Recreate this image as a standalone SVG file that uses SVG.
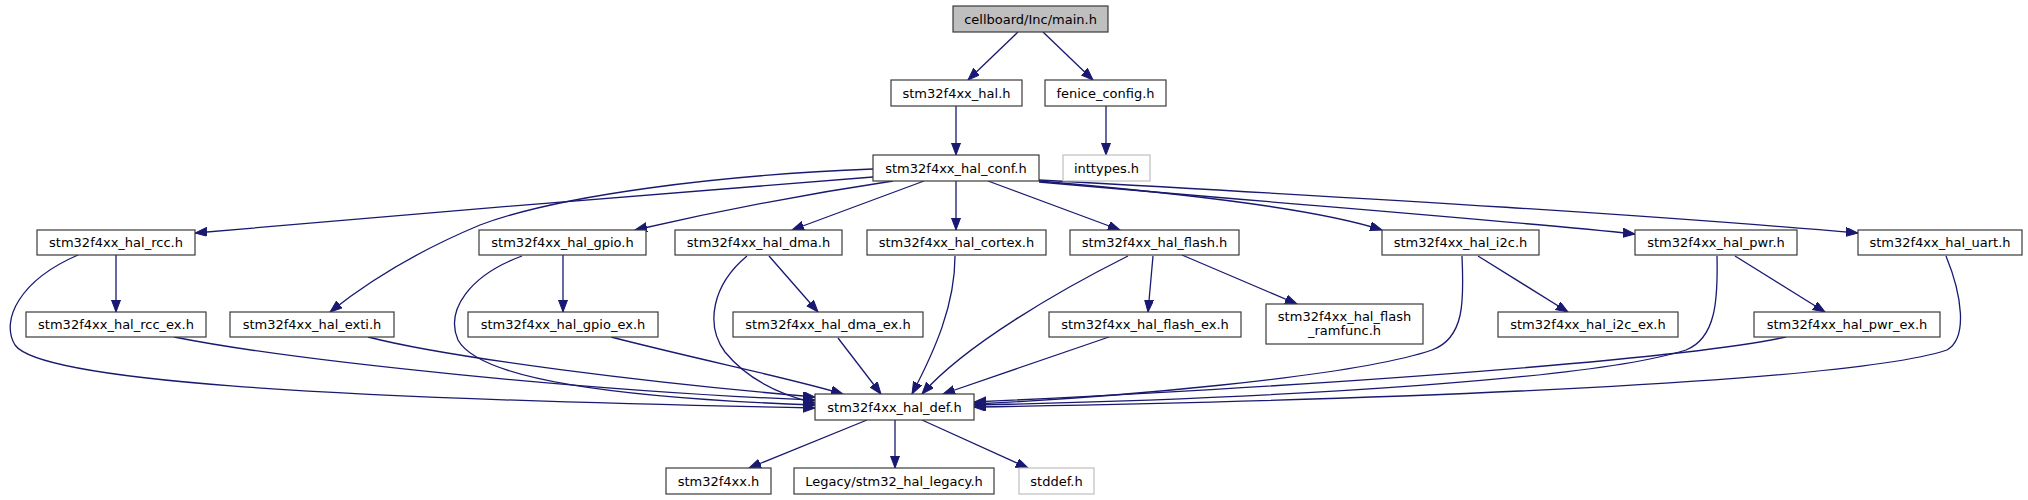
<svg xmlns="http://www.w3.org/2000/svg" width="2028" height="500" viewBox="0 0 2028 500">
<style>
.n rect{fill:#fff;stroke:#3a3a3a;stroke-width:1.2}
.n text{font-family:"DejaVu Sans",sans-serif;font-size:13px;fill:#000;text-anchor:middle}
.g rect{stroke:#bfbfbf}
.root rect{fill:#bfbfbf}
#edges path{fill:none;stroke:#191970;stroke-width:1.3;marker-end:url(#ah)}
</style>
<defs>
<marker id="ah" markerUnits="userSpaceOnUse" markerWidth="13" markerHeight="10" refX="12" refY="4.5" orient="auto">
<path d="M0,0 L12,4.5 L0,9 z" fill="#191970" stroke="#191970" stroke-width="1"/>
</marker>
</defs>
<rect width="2028" height="500" fill="#fff"/>
<g id="edges">
<path d="M1018,32 L968,80"/>
<path d="M1043,32 L1093,80"/>
<path d="M956,106 L956,155"/>
<path d="M1106,106 L1106,155"/>
<path d="M873,177 C700,190 400,215 195,233"/>
<path d="M873,169 C720,175 560,195 480,225 C420,250 370,280 330,312"/>
<path d="M893,181 C800,195 700,215 635,230"/>
<path d="M924,181 L792,230"/>
<path d="M956,181 L956,230"/>
<path d="M988,181 L1120,230"/>
<path d="M1039,181 C1200,195 1320,210 1382,230"/>
<path d="M1039,182 C1300,205 1500,220 1635,234"/>
<path d="M1039,180 C1400,200 1650,215 1858,233"/>
<path d="M116,255 L116,312"/>
<path d="M78,255 C20,280 0,320 15,345 C40,380 300,398 815,408"/>
<path d="M563,255 L563,312"/>
<path d="M522,256 C470,275 445,310 458,340 C480,380 620,398 815,405"/>
<path d="M769,256 L818,312"/>
<path d="M747,256 C712,285 705,325 725,352 C748,380 780,395 815,403"/>
<path d="M955,256 C955,305 935,350 912,394"/>
<path d="M1153,256 L1148,312"/>
<path d="M1182,255 L1297,304"/>
<path d="M1128,256 C1060,290 965,345 922,394"/>
<path d="M1478,256 L1568,312"/>
<path d="M1462,256 C1464,300 1465,338 1432,350 C1350,378 1100,398 974,404"/>
<path d="M1735,256 L1825,312"/>
<path d="M1717,256 C1718,300 1716,338 1686,350 C1600,378 1300,398 974,405"/>
<path d="M1946,256 C1962,295 1968,338 1947,350 C1850,382 1400,400 974,407"/>
<path d="M174,337 C300,362 600,392 815,400"/>
<path d="M368,337 C450,358 650,383 815,397"/>
<path d="M611,337 C700,360 790,378 843,394"/>
<path d="M838,338 L881,394"/>
<path d="M1109,337 L943,394"/>
<path d="M1786,337 C1700,356 1400,382 974,402"/>
<path d="M867,420 L749,468"/>
<path d="M895,420 L895,468"/>
<path d="M922,420 L1028,468"/>
</g>
<g id="main" class="n root"><rect x="953" y="6" width="155" height="26"/><text x="1030.5" y="23.5">cellboard/Inc/main.h</text></g>
<g id="hal" class="n"><rect x="891" y="80" width="131" height="26"/><text x="956.5" y="97.5">stm32f4xx_hal.h</text></g>
<g id="fenice" class="n"><rect x="1045" y="80" width="121" height="26"/><text x="1105.5" y="97.5">fenice_config.h</text></g>
<g id="conf" class="n"><rect x="873" y="155" width="166" height="26"/><text x="956" y="172.5">stm32f4xx_hal_conf.h</text></g>
<g id="inttypes" class="n g"><rect x="1063" y="155" width="87" height="26"/><text x="1106.5" y="172.5">inttypes.h</text></g>
<g id="rcc" class="n"><rect x="37" y="230" width="158" height="25"/><text x="116" y="247">stm32f4xx_hal_rcc.h</text></g>
<g id="gpio" class="n"><rect x="479" y="230" width="167" height="25"/><text x="562.5" y="247">stm32f4xx_hal_gpio.h</text></g>
<g id="dma" class="n"><rect x="675" y="230" width="167" height="25"/><text x="758.5" y="247">stm32f4xx_hal_dma.h</text></g>
<g id="cortex" class="n"><rect x="867" y="230" width="179" height="25"/><text x="956.5" y="247">stm32f4xx_hal_cortex.h</text></g>
<g id="flash" class="n"><rect x="1070" y="230" width="169" height="25"/><text x="1154.5" y="247">stm32f4xx_hal_flash.h</text></g>
<g id="i2c" class="n"><rect x="1382" y="230" width="157" height="25"/><text x="1460.5" y="247">stm32f4xx_hal_i2c.h</text></g>
<g id="pwr" class="n"><rect x="1635" y="230" width="162" height="25"/><text x="1716" y="247">stm32f4xx_hal_pwr.h</text></g>
<g id="uart" class="n"><rect x="1858" y="230" width="164" height="25"/><text x="1940" y="247">stm32f4xx_hal_uart.h</text></g>
<g id="rcc_ex" class="n"><rect x="26" y="312" width="180" height="25"/><text x="116" y="329">stm32f4xx_hal_rcc_ex.h</text></g>
<g id="exti" class="n"><rect x="230" y="312" width="164" height="25"/><text x="312" y="329">stm32f4xx_hal_exti.h</text></g>
<g id="gpio_ex" class="n"><rect x="468" y="312" width="190" height="25"/><text x="563" y="329">stm32f4xx_hal_gpio_ex.h</text></g>
<g id="dma_ex" class="n"><rect x="733" y="312" width="190" height="25"/><text x="828" y="329">stm32f4xx_hal_dma_ex.h</text></g>
<g id="flash_ex" class="n"><rect x="1049" y="312" width="192" height="25"/><text x="1145" y="329">stm32f4xx_hal_flash_ex.h</text></g>
<g id="ramfunc" class="n"><rect x="1266" y="304" width="157" height="40"/><text x="1344.5" y="320.5">stm32f4xx_hal_flash</text><text x="1344.5" y="334.5">_ramfunc.h</text></g>
<g id="i2c_ex" class="n"><rect x="1498" y="312" width="180" height="25"/><text x="1588" y="329">stm32f4xx_hal_i2c_ex.h</text></g>
<g id="pwr_ex" class="n"><rect x="1754" y="312" width="186" height="25"/><text x="1847" y="329">stm32f4xx_hal_pwr_ex.h</text></g>
<g id="def" class="n"><rect x="815" y="394" width="159" height="26"/><text x="894.5" y="411.5">stm32f4xx_hal_def.h</text></g>
<g id="stm32f4xx" class="n"><rect x="666" y="468" width="105" height="26"/><text x="718.5" y="485.5">stm32f4xx.h</text></g>
<g id="legacy" class="n"><rect x="794" y="468" width="200" height="26"/><text x="894" y="485.5">Legacy/stm32_hal_legacy.h</text></g>
<g id="stddef" class="n g"><rect x="1019" y="468" width="75" height="26"/><text x="1056.5" y="485.5">stddef.h</text></g>
</svg>
